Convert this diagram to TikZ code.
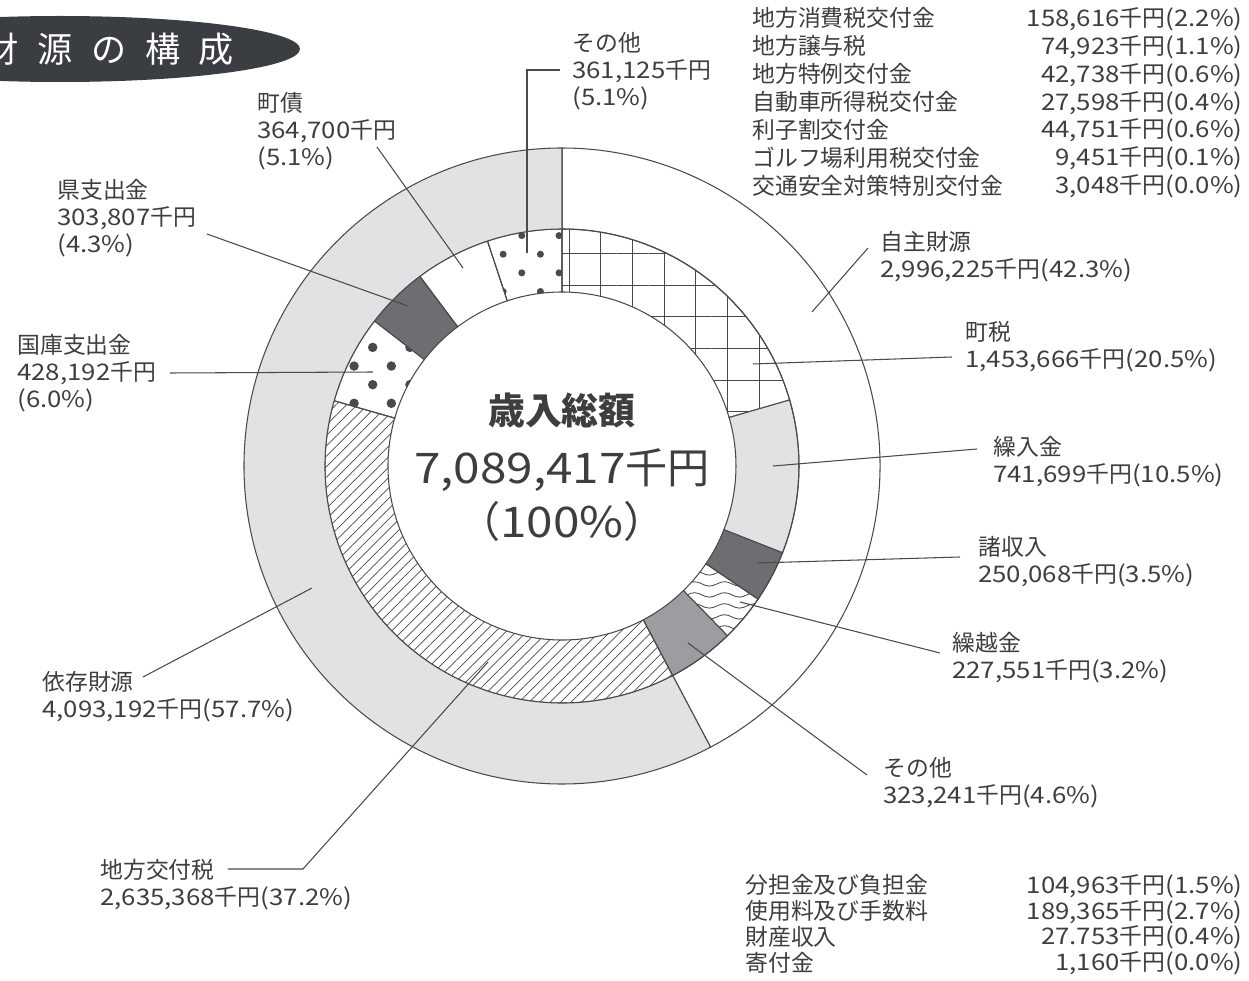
\documentclass[tikz,border=0pt]{standalone}
\usepackage{fontspec}
\setmainfont{Noto Sans CJK JP}
\newfontfamily\numfont[FakeStretch=1.13]{Noto Sans CJK JP}
\usetikzlibrary{patterns,patterns.meta,calc}

\definecolor{inkgray}{HTML}{3E3E3E}
\definecolor{linegray}{HTML}{4A4A4A}
\definecolor{ringgray}{HTML}{E0E2E4}
\definecolor{darkseg}{HTML}{6C6E71}
\definecolor{midseg}{HTML}{9B9DA0}
\definecolor{titlefill}{HTML}{3A3D41}

% wavy lines for the carry-over part
\pgfdeclarepatternformonly{wavelines}{\pgfqpoint{0pt}{0pt}}{\pgfqpoint{17pt}{6pt}}{\pgfqpoint{17pt}{6pt}}{%
  \pgfsetlinewidth{0.5pt}
  \pgfpathmoveto{\pgfqpoint{0pt}{3pt}}
  \pgfpathsine{\pgfqpoint{4.25pt}{1.3pt}}
  \pgfpathcosine{\pgfqpoint{4.25pt}{-1.3pt}}
  \pgfpathsine{\pgfqpoint{4.25pt}{-1.3pt}}
  \pgfpathcosine{\pgfqpoint{4.25pt}{1.3pt}}
  \pgfusepath{stroke}}

% one part of a ring: style, start angle, end angle, inner r, outer r
\newcommand{\ringseg}[5]{%
  \path[#1] (#2:#4) arc[start angle=#2, end angle=#3, radius=#4]
    -- (#3:#5) arc[start angle=#3, end angle=#2, radius=#5] -- cycle;}

% amounts and shares
\newcommand{\sen}[1]{{\numfont #1}千円}
\newcommand{\pc}[1]{{\numfont(#1\%)}}

\tikzset{
  seg/.style={draw=linegray, line width=0.6pt, pattern color=linegray},
  lbl/.style={inner sep=0pt, anchor=north west, align=left, text=inkgray,
    font=\fontsize{13pt}{15.4pt}\selectfont},
  tbl/.style={inner sep=0pt, align=left, text=inkgray,
    font=\fontsize{13pt}{15.9pt}\selectfont},
  leader/.style={draw=linegray, line width=0.6pt}
}

\begin{document}
\begin{tikzpicture}[x=0.02cm, y=0.02cm]
	
	\fill[white] (-562,-515) rectangle (687,466);
	\useasboundingbox (-562,-515) rectangle (687,466);
	
	% title
	\fill[titlefill] (-502,417) ellipse [x radius=240, y radius=33];
	\node[text=white, font=\fontsize{20pt}{20pt}\selectfont] (title) at (-453,417)
		{財\hspace{10.6pt}源\hspace{10.6pt}の\hspace{10.6pt}構\hspace{10.6pt}成};
	
	% inner ring
	\ringseg{seg, pattern={Hatch[angle=0, distance=18pt, line width=0.5pt]}}{90}{16.18}{174}{237}
	\ringseg{seg, fill=ringgray}{16.18}{-21.48}{174}{237}
	\ringseg{seg, fill=darkseg}{-21.48}{-34.18}{174}{237}
	\ringseg{seg, pattern=wavelines}{-34.18}{-45.74}{174}{237}
	\ringseg{seg, fill=midseg}{-45.74}{-62.15}{174}{237}
	\ringseg{seg, pattern={Lines[angle=45, distance=4.2pt, line width=0.4pt]}}{-62.15}{-195.98}{174}{237}
	\ringseg{seg, pattern={Dots[angle=45, distance=15pt, radius=2.7pt]}}{-195.98}{-217.72}{174}{237}
	\ringseg{seg, fill=darkseg}{-217.72}{-233.15}{174}{237}
	\ringseg{seg}{-233.15}{-251.67}{174}{237}
	\ringseg{seg, pattern={Dots[angle=45, distance=15pt, radius=2pt]}}{-251.67}{-270}{174}{237}
	
	% outer ring
	\ringseg{seg}{90}{-62.15}{237}{318}
	\ringseg{seg, fill=ringgray}{-62.15}{-270}{237}{318}
	
	% total
	\node[text=inkgray, font=\fontsize{21pt}{21pt}\selectfont\bfseries] (total) at (0,56) {歳入総額};
	\node[text=inkgray, font=\fontsize{24pt}{24pt}\selectfont] (sum) at (0,-4) {\sen{7,089,417}};
	\node[text=inkgray, font=\fontsize{24pt}{24pt}\selectfont] (pct) at (0,-55) {（{\numfont 100\%}）};
	
	% points inside the parts
	\coordinate (oth2-in) at (-35,213);
	\coordinate (chosai-in) at (-99,198);
	\coordinate (ken-in) at (-154,160);
	\coordinate (kokko-in) at (-189,94);
	\coordinate (izon-in) at (-250,-122);
	\coordinate (kofuzei-in) at (-74,-196);
	\coordinate (jishu-in) at (250,154);
	\coordinate (chozei-in) at (191,102);
	\coordinate (kuri-in) at (211,0);
	\coordinate (sho-in) at (195,-97);
	\coordinate (kurikoshi-in) at (178,-136);
	\coordinate (oth1-in) at (126,-177);
	
	% labels
	\node[lbl] (oth2) at (10,434) {その他\\\sen{361,125}\\\pc{5.1}};
	\node[lbl] (chosai) at (-305,374) {町債\\\sen{364,700}\\\pc{5.1}};
	\node[lbl] (ken) at (-505,287) {県支出金\\\sen{303,807}\\\pc{4.3}};
	\node[lbl] (kokko) at (-545,132) {国庫支出金\\\sen{428,192}\\\pc{6.0}};
	\node[lbl] (izon) at (-520,-205) {依存財源\\\sen{4,093,192}\pc{57.7}};
	\node[lbl] (kofuzei) at (-462,-393) {地方交付税\\\sen{2,635,368}\pc{37.2}};
	\node[lbl] (jishu) at (318,235) {自主財源\\\sen{2,996,225}\pc{42.3}};
	\node[lbl] (chozei) at (403,145) {町税\\\sen{1,453,666}\pc{20.5}};
	\node[lbl] (kuri) at (431,30) {繰入金\\\sen{741,699}\pc{10.5}};
	\node[lbl] (sho) at (416,-70) {諸収入\\\sen{250,068}\pc{3.5}};
	\node[lbl] (kurikoshi) at (390,-166) {繰越金\\\sen{227,551}\pc{3.2}};
	\node[lbl] (oth1) at (321,-291) {その他\\\sen{323,241}\pc{4.6}};
	
	% leaders
	\draw[leader] (oth2-in) |- ($(oth2.north west)+(-12,-38)$);
	\draw[leader] ($(chosai.north west)+(120,-55)$) -- (chosai-in);
	\draw[leader] ($(ken.north west)+(150,-55)$) -- (ken-in);
	\draw[leader] ($(kokko.north west)+(153,-39)$) -- (kokko-in);
	\draw[leader] ($(izon.north west)+(101,-6)$) -- (izon-in);
	\draw[leader] ($(kofuzei.north west)+(128,-10)$) -- ++(75,0) -- (kofuzei-in);
	\draw[leader] ($(jishu.north west)+(-12,-17)$) -- (jishu-in);
	\draw[leader] ($(chozei.north west)+(-13,-36)$) -- (chozei-in);
	\draw[leader] ($(kuri.north west)+(-16,-13)$) -- (kuri-in);
	\draw[leader] ($(sho.north west)+(-18,-21)$) -- (sho-in);
	\draw[leader] ($(kurikoshi.north west)+(-12,-21)$) -- (kurikoshi-in);
	\draw[leader] ($(oth1.north west)+(-16,-18)$) -- (oth1-in);
	
	% breakdown tables
	\node[tbl, anchor=north west] (deptop) at (190,459)
		{地方消費税交付金\\地方譲与税\\地方特例交付金\\自動車所得税交付金\\利子割交付金\\ゴルフ場利用税交付金\\交通安全対策特別交付金};
	\node[tbl, anchor=north east, align=right] (deptopv) at (681,459)
		{\sen{158,616}\pc{2.2}\\\sen{74,923}\pc{1.1}\\\sen{42,738}\pc{0.6}\\\sen{27,598}\pc{0.4}\\\sen{44,751}\pc{0.6}\\\sen{9,451}\pc{0.1}\\\sen{3,048}\pc{0.0}};
	\node[tbl, anchor=north west, font=\fontsize{13pt}{14.7pt}\selectfont] (ownbot) at (183,-408)
		{分担金及び負担金\\使用料及び手数料\\財産収入\\寄付金};
	\node[tbl, anchor=north east, align=right, font=\fontsize{13pt}{14.7pt}\selectfont] (ownbotv) at (681,-408)
		{\sen{104,963}\pc{1.5}\\\sen{189,365}\pc{2.7}\\\sen{27.753}\pc{0.4}\\\sen{1,160}\pc{0.0}};
	
\end{tikzpicture}
\end{document}
